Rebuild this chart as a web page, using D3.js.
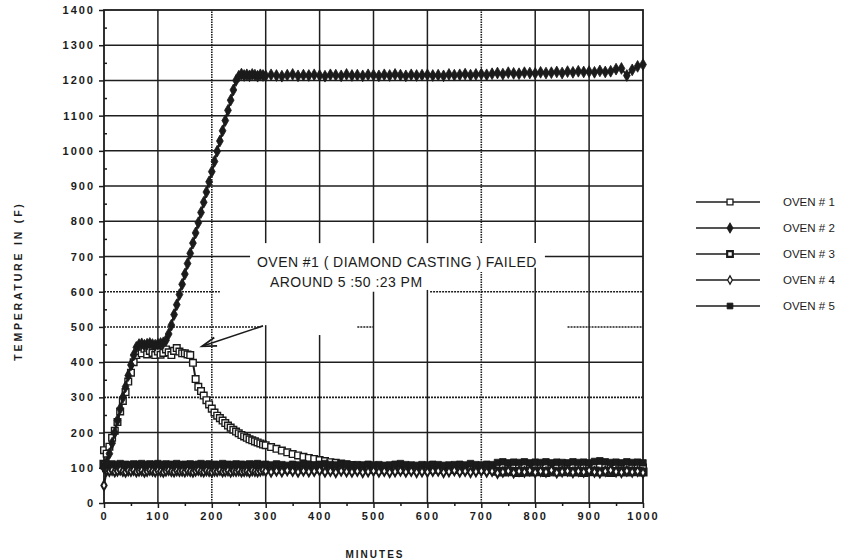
<!DOCTYPE html>
<html>
<head>
<meta charset="utf-8">
<script src="https://cdn.jsdelivr.net/npm/d3@7/dist/d3.min.js"></script>
<style>
  body { margin: 0; background: #fff; }
  text { font-family: 'Liberation Sans', Arial, sans-serif; fill: #1b1b1b; }
</style>
</head>
<body>
<div id="chart"></div>
<script>
// sample times (minutes)
var minutes = [
  0, 5, 10, 15, 20, 25, 30, 35, 40, 45,
  50, 55, 60, 65, 70, 75, 80, 85, 90, 95,
  100, 105, 110, 115, 120, 125, 130, 135, 140, 145,
  150, 155, 160, 165, 170, 175, 180, 185, 190, 195,
  200, 205, 210, 215, 220, 225, 230, 235, 240, 245,
  250, 255, 260, 265, 270, 275, 280, 285, 290, 295,
  300, 310, 320, 330, 340, 350, 360, 370, 380, 390,
  400, 410, 420, 430, 440, 450, 460, 470, 480, 490,
  500, 510, 520, 530, 540, 550, 560, 570, 580, 590,
  600, 610, 620, 630, 640, 650, 660, 670, 680, 690,
  700, 710, 720, 730, 740, 750, 760, 770, 780, 790,
  800, 810, 820, 830, 840, 850, 860, 870, 880, 890,
  900, 910, 920, 930, 940, 950, 960, 970, 980, 990,
  1000
];

var oven1 = [
  150, 140, 160, 185, 205, 230, 260, 290, 315, 345,
  370, 400, 420, 432, 425, 438, 422, 432, 426, 420,
  430, 421, 426, 436, 428, 420, 432, 440, 430, 425,
  425, 422, 420, 398, 352, 330, 318, 305, 292, 280,
  268, 257, 248, 241, 234, 227, 220, 214, 208, 203,
  198, 193, 189, 185, 181, 178, 175, 172, 169, 166,
  164, 159, 154, 149, 144, 139, 135, 131, 128, 125,
  122, 119, 116, 114, 112, 110, 108, 106, 105, 104,
  103, 102, 104, 101, 103, 102, 100, 103, 101, 102,
  101, 103, 100, 102, 101, 103, 100, 102, 101, 100,
  102, 101, 103, 100, 102, 101, 100, 102, 103, 101,
  100, 102, 101, 103, 100, 101, 102, 100, 103, 101,
  102, 100, 101, 103, 101, 100, 102, 101, 100, 103,
  101
];

var oven2 = [
  100, 115, 140, 170, 200, 235, 268, 300, 330, 362,
  392, 420, 442, 450, 452, 448, 451, 453, 450, 448,
  451, 453, 455, 462, 480, 505, 535, 563, 592, 621,
  650, 680, 709, 738, 767, 796, 825, 854, 883, 912,
  941, 970, 999, 1028, 1057, 1086, 1115, 1144, 1173, 1200,
  1212, 1218, 1214, 1216, 1213, 1217, 1215, 1212, 1216, 1214,
  1213, 1216, 1214, 1212, 1215, 1217, 1213, 1215, 1214, 1216,
  1214, 1212, 1216, 1215, 1213, 1217, 1214, 1215, 1213, 1216,
  1215, 1213, 1216, 1214, 1217, 1215, 1213, 1216, 1214, 1215,
  1216, 1214, 1215, 1213, 1217, 1215, 1216, 1218, 1215, 1217,
  1218, 1216, 1219, 1221, 1218, 1222, 1220, 1219, 1222, 1221,
  1220, 1223, 1221, 1222, 1224, 1221, 1225, 1223, 1226, 1224,
  1225, 1223, 1227, 1224, 1226, 1232, 1234, 1214, 1230, 1240,
  1245
];

var oven3 = [
  110, 100, 97, 99, 101, 98, 96, 100, 98, 99,
  97, 101, 98, 96, 99, 100, 98, 97, 101, 99,
  98, 96, 100, 99, 97, 98, 101, 99, 96, 98,
  100, 98, 97, 99, 101, 98, 96, 99, 100, 97,
  98, 101, 99, 96, 98, 100, 98, 97, 99, 101,
  98, 96, 99, 100, 97, 98, 101, 99, 96, 98,
  100, 98, 97, 99, 96, 98, 100, 97, 98, 99,
  97, 99, 96, 98, 100, 97, 96, 98, 96, 97,
  96, 97, 96, 98, 96, 97, 96, 95, 97, 96,
  96, 97, 96, 95, 97, 96, 95, 96, 97, 96,
  96, 95, 97, 90, 88, 91, 89, 87, 90, 88,
  91, 89, 87, 90, 88, 91, 89, 88, 90, 87,
  89, 91, 88, 90, 87, 89, 91, 88, 90, 89,
  88
];

var oven4 = [
  50, 92, 90, 93, 89, 91, 94, 90, 88, 92,
  90, 93, 89, 91, 92, 88, 90, 93, 91, 89,
  92, 90, 88, 91, 93, 90, 89, 92, 90, 91,
  89, 92, 90, 88, 91, 93, 90, 89, 92, 90,
  88, 91, 90, 93, 89, 90, 92, 88, 91, 90,
  92, 89, 90, 91, 88, 92, 90, 89, 91, 93,
  90, 88, 91, 89, 92, 90, 88, 91, 89, 90,
  92, 88, 90, 87, 91, 89, 88, 90, 87, 89,
  91, 88, 90, 87, 89, 91, 88, 90, 87, 89,
  88, 90, 91, 87, 89, 92, 88, 90, 87, 89,
  91, 88, 90, 85, 88, 91, 86, 90, 88, 92,
  87, 90, 88, 93, 86, 89, 91, 87, 90, 88,
  92, 88, 86, 90, 93, 89, 87, 91, 88, 90,
  86
];

var oven5 = [
  105, 110, 108, 111, 107, 109, 112, 108, 110, 107,
  109, 111, 108, 110, 112, 107, 109, 111, 108, 110,
  112, 108, 109, 111, 107, 110, 108, 112, 109, 107,
  110, 108, 111, 109, 107, 110, 112, 108, 109, 111,
  108, 110, 107, 109, 112, 108, 110, 107, 109, 111,
  108, 110, 109, 107, 111, 108, 110, 112, 109, 108,
  110, 108, 111, 109, 107, 110, 108, 112, 109, 108,
  110, 112, 109, 108, 111, 110, 107, 109, 108, 110,
  108, 109, 107, 108, 110, 112, 109, 108, 107, 109,
  108, 110, 109, 107, 108, 109, 110, 108, 112, 109,
  108, 110, 109, 115, 117, 114, 116, 115, 117, 114,
  116, 115, 117, 114, 116, 115, 114, 117, 115, 116,
  114, 118, 120, 117, 115, 116, 114, 117, 115, 116,
  114
];

var seriesNames = ['OVEN # 1', 'OVEN # 2', 'OVEN # 3', 'OVEN # 4', 'OVEN # 5'];
var xTicks = [0, 100, 200, 300, 400, 500, 600, 700, 800, 900, 1000];
var yTicks = [0, 100, 200, 300, 400, 500, 600, 700, 800, 900, 1000, 1100, 1200, 1300, 1400];
var noteLines = ['OVEN #1 ( DIAMOND CASTING ) FAILED', 'AROUND 5 :50 :23 PM'];

var width = 854, height = 560;
var plotLeft = 104, plotRight = 643, plotTop = 10, plotBottom = 503;

var svg = d3.select('#chart').append('svg')
  .attr('width', width)
  .attr('height', height);

var x = d3.scaleLinear().domain([0, 1000]).range([plotLeft, plotRight]);
var y = d3.scaleLinear().domain([0, 1400]).range([plotBottom, plotTop]);

// gridlines (scan has some dotted lines and a blank patch behind the note)
var dottedX = [200, 700], dottedY = [300, 500, 600];
var gapsX = {300: [[505, 738]], 400: [[477, 738]], 500: [[600, 738]], 600: [[605, 738]], 700: [[656, 738]], 800: [[668, 738]]};
var gapsY = {700: [[271, 818]], 600: [[215, 605]], 500: [[290, 470], [500, 860]]};

function pieces(a, b, gaps) {
  var out = [], cur = a;
  (gaps || []).forEach(function(g) {
    out.push([cur, g[0]]);
    cur = g[1];
  });
  out.push([cur, b]);
  return out;
}

var grid = svg.append('g').attr('class', 'grid');
xTicks.slice(1, -1).forEach(function(v) {
  var dotted = dottedX.indexOf(v) >= 0;
  pieces(0, 1400, gapsX[v]).forEach(function(p) {
    grid.append('line')
      .attr('x1', x(v)).attr('x2', x(v))
      .attr('y1', y(p[0])).attr('y2', y(p[1]))
      .style('stroke', '#1e1e1e')
      .style('stroke-width', dotted ? 1.6 : 1.5)
      .style('stroke-dasharray', dotted ? '1.5,1' : null);
  });
});
yTicks.slice(1, -1).forEach(function(v) {
  var dotted = dottedY.indexOf(v) >= 0;
  pieces(0, 1000, gapsY[v]).forEach(function(p) {
    grid.append('line')
      .attr('y1', y(v)).attr('y2', y(v))
      .attr('x1', x(p[0])).attr('x2', x(p[1]))
      .style('stroke', '#1e1e1e')
      .style('stroke-width', dotted ? 1.6 : 1.5)
      .style('stroke-dasharray', dotted ? '2,1' : null);
  });
});

// frame
svg.append('rect')
  .attr('x', plotLeft).attr('y', plotTop)
  .attr('width', plotRight - plotLeft).attr('height', plotBottom - plotTop)
  .style('fill', 'none')
  .style('stroke', '#1b1b1b')
  .style('stroke-width', 1.8);

// axes
var xAxis = svg.append('g')
  .attr('transform', 'translate(0,' + plotBottom + ')')
  .call(d3.axisBottom(x).tickValues(xTicks).tickSize(5).tickPadding(4).tickFormat(d3.format('d')));
var xMinor = svg.append('g')
  .attr('transform', 'translate(0,' + plotBottom + ')')
  .call(d3.axisBottom(x).tickValues(d3.range(50, 1000, 100)).tickSize(3).tickFormat(''));
var yAxis = svg.append('g')
  .attr('transform', 'translate(' + plotLeft + ',0)')
  .call(d3.axisLeft(y).tickValues(yTicks).tickSize(5).tickPadding(4).tickFormat(d3.format('d')));
var yMinor = svg.append('g')
  .attr('transform', 'translate(' + plotLeft + ',0)')
  .call(d3.axisLeft(y).tickValues(d3.range(50, 1400, 100)).tickSize(-3).tickFormat(''));

[xAxis, xMinor, yAxis, yMinor].forEach(function(a) {
  a.select('.domain').remove();
  a.selectAll('line').style('stroke', '#1b1b1b').style('stroke-width', 1.5);
  a.selectAll('text')
    .style('font-family', "'Liberation Sans', Arial, sans-serif")
    .style('font-size', '11px')
    .style('font-weight', 'bold')
    .style('letter-spacing', '2px')
    .style('fill', '#1b1b1b');
});

// axis titles
svg.append('text')
  .attr('transform', 'translate(22,281) rotate(-90)')
  .style('text-anchor', 'middle')
  .style('font-size', '10.5px')
  .style('font-weight', 'bold')
  .style('letter-spacing', '2.8px')
  .text('TEMPERATURE  IN  (F)');
svg.append('text')
  .attr('x', 375).attr('y', 558)
  .style('text-anchor', 'middle')
  .style('font-size', '10px')
  .style('font-weight', 'bold')
  .style('letter-spacing', '2px')
  .text('MINUTES');

// series
var seriesData = [oven1, oven2, oven3, oven4, oven5];
var markers = [
  {type: d3.symbolSquare, size: 44, fill: '#fff', sw: 1.4, legendSw: 1.3},
  {type: d3.symbolDiamond, size: 40, fill: '#1b1b1b', sw: 0.8, legendSw: 0.8},
  {type: d3.symbolSquare, size: 40, fill: '#fff', sw: 2.8, legendSw: 2.2},
  {type: d3.symbolDiamond, size: 24, fill: '#fff', sw: 2, legendSw: 1.3},
  {type: d3.symbolSquare, size: 42, fill: '#1b1b1b', sw: 0.8, legendSw: 0.8}
];
var drawOrder = [0, 2, 4, 3, 1];

var line = d3.line()
  .x(function(d) { return x(d[0]); })
  .y(function(d) { return y(d[1]); });

drawOrder.forEach(function(i) {
  var pts = minutes.map(function(m, k) { return [m, seriesData[i][k]]; });
  var g = svg.append('g').attr('class', 'series-' + (i + 1));
  g.append('path')
    .datum(pts)
    .attr('d', line)
    .style('fill', 'none')
    .style('stroke', '#1b1b1b')
    .style('stroke-width', 2);
  g.selectAll('path.pt')
    .data(pts)
    .enter().append('path')
    .attr('class', 'pt')
    .attr('transform', function(d) { return 'translate(' + x(d[0]) + ',' + y(d[1]) + ')'; })
    .attr('d', d3.symbol().type(markers[i].type).size(markers[i].size))
    .style('fill', markers[i].fill)
    .style('stroke', '#1b1b1b')
    .style('stroke-width', markers[i].sw);
});

// annotation
var note = svg.append('g');
note.selectAll('text')
  .data(noteLines)
  .enter().append('text')
  .attr('x', function(d, i) { return i === 0 ? 257 : 270; })
  .attr('y', function(d, i) { return 267 + i * 20; })
  .style('font-size', '14px')
  .style('letter-spacing', '0.45px')
  .text(function(d) { return d; });

var a0 = [x(295), y(503)], a1 = [x(182), y(445)];
var ang = Math.atan2(a0[1] - a1[1], a0[0] - a1[0]);
note.append('line')
  .attr('x1', a0[0]).attr('y1', a0[1])
  .attr('x2', a1[0]).attr('y2', a1[1])
  .style('stroke', '#1b1b1b')
  .style('stroke-width', 1.6);
note.append('path')
  .attr('d', 'M' + (a1[0] + 15 * Math.cos(ang - 0.3)) + ',' + (a1[1] + 15 * Math.sin(ang - 0.3)) +
    'L' + a1[0] + ',' + a1[1] +
    'L' + (a1[0] + 15 * Math.cos(ang + 0.3)) + ',' + (a1[1] + 15 * Math.sin(ang + 0.3)))
  .style('fill', 'none')
  .style('stroke', '#1b1b1b')
  .style('stroke-width', 1.8);

// legend
var legend = svg.append('g').attr('transform', 'translate(696,202)');
var rows = legend.selectAll('g')
  .data(seriesNames)
  .enter().append('g')
  .attr('transform', function(d, i) { return 'translate(0,' + i * 26 + ')'; });
rows.append('line')
  .attr('x1', 0).attr('x2', 64)
  .style('stroke', '#1b1b1b')
  .style('stroke-width', 1.4);
rows.append('path')
  .attr('transform', 'translate(34,0)')
  .attr('d', function(d, i) { return d3.symbol().type(markers[i].type).size(markers[i].size * 0.8)(); })
  .style('fill', function(d, i) { return markers[i].fill; })
  .style('stroke', '#1b1b1b')
  .style('stroke-width', function(d, i) { return markers[i].legendSw; });
rows.append('text')
  .attr('x', 87).attr('y', 4)
  .style('font-size', '11.5px')
  .text(function(d) { return d; });
</script>
</body>
</html>
